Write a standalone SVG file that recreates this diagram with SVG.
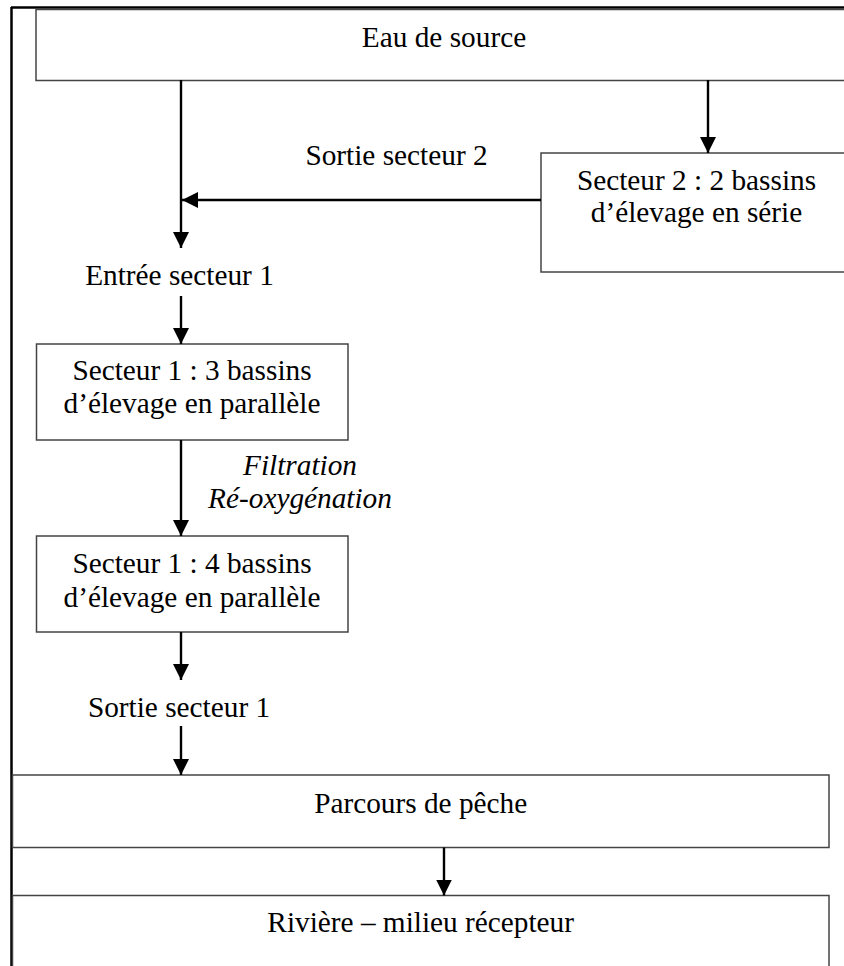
<svg xmlns="http://www.w3.org/2000/svg" width="844" height="966" viewBox="0 0 844 966">
<defs>
<style>
.box{fill:#fff;stroke:#444;stroke-width:1.5}
.t{font-family:"Liberation Serif","Times New Roman",serif;font-size:29.3px;fill:#000;text-anchor:middle}
.it{font-style:italic}
.c{stroke:#000;stroke-width:2.4;fill:none}
.frame{stroke:#000;stroke-width:2.5;fill:none}
</style>
<marker id="ah" markerUnits="userSpaceOnUse" markerWidth="16" markerHeight="16" refX="16" refY="8" orient="auto" viewBox="0 0 16 16">
<path d="M0,0 L16,8 L0,16 z" fill="#000"/>
</marker>
</defs>
<rect width="844" height="966" fill="#fff"/>
<g id="frame">
<line class="frame" x1="11" y1="7.5" x2="844" y2="7.5"/>
<line class="frame" x1="11.5" y1="7" x2="11.5" y2="966"/>
</g>
<g id="eau">
<rect class="box" x="36" y="9.5" width="816" height="71"/>
<text class="t" x="444" y="47">Eau de source</text>
</g>
<g id="secteur2">
<rect class="box" x="541" y="153" width="311" height="119"/>
<text class="t" x="696.5" y="190">Secteur 2 : 2 bassins</text>
<text class="t" x="696.5" y="222">d’élevage en série</text>
</g>
<g id="sortie2">
<text class="t" x="396.5" y="165">Sortie secteur 2</text>
</g>
<g id="entree1">
<text class="t" x="179.5" y="285">Entrée secteur 1</text>
</g>
<g id="secteur1a">
<rect class="box" x="36.5" y="344" width="311.5" height="96"/>
<text class="t" x="192" y="380">Secteur 1 : 3 bassins</text>
<text class="t" x="192" y="413">d’élevage en parallèle</text>
</g>
<g id="filtration">
<text class="t it" x="300" y="475">Filtration</text>
<text class="t it" x="300" y="508">Ré-oxygénation</text>
</g>
<g id="secteur1b">
<rect class="box" x="36.5" y="536" width="311.5" height="96"/>
<text class="t" x="192" y="573">Secteur 1 : 4 bassins</text>
<text class="t" x="192" y="607">d’élevage en parallèle</text>
</g>
<g id="sortie1">
<text class="t" x="179" y="717">Sortie secteur 1</text>
</g>
<g id="parcours">
<rect class="box" x="12.5" y="775" width="816.5" height="72.5"/>
<text class="t" x="420.7" y="813">Parcours de pêche</text>
</g>
<g id="riviere">
<rect class="box" x="12.5" y="895.5" width="816.5" height="80"/>
<text class="t" x="420.7" y="932">Rivière – milieu récepteur</text>
</g>
<g id="connectors">
<line class="c" x1="181" y1="80" x2="181" y2="248" marker-end="url(#ah)"/>
<line class="c" x1="708" y1="80" x2="708" y2="153" marker-end="url(#ah)"/>
<line class="c" x1="541" y1="200" x2="182" y2="200" marker-end="url(#ah)"/>
<line class="c" x1="181" y1="296" x2="181" y2="344" marker-end="url(#ah)"/>
<line class="c" x1="181" y1="440" x2="181" y2="536" marker-end="url(#ah)"/>
<line class="c" x1="181" y1="632" x2="181" y2="680" marker-end="url(#ah)"/>
<line class="c" x1="181" y1="726" x2="181" y2="775" marker-end="url(#ah)"/>
<line class="c" x1="444" y1="847.5" x2="444" y2="895.5" marker-end="url(#ah)"/>
</g>
</svg>
